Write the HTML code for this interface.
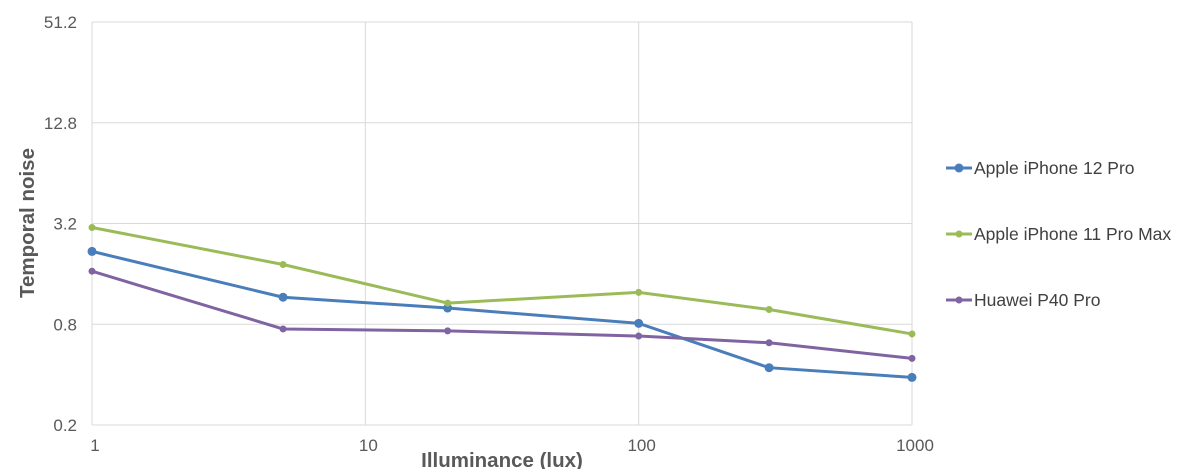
<!DOCTYPE html>
<html><head><meta charset="utf-8"><style>
body{margin:0;background:#fff;font-family:"Liberation Sans",Arial,sans-serif}
svg text{font-family:"Liberation Sans",Arial,sans-serif}
</style></head><body>
<svg id="chart" width="1200" height="469">
<g id="grid"></g><g id="axes"></g><g id="series"></g><g id="legend"></g>
</svg>
<script>
const xValues=[1,5,20,100,300,1000];
const seriesNames=["Apple iPhone 12 Pro","Apple iPhone 11 Pro Max","Huawei P40 Pro"];
const iphone12=[2.18,1.16,1.0,0.81,0.44,0.385];
const iphone11=[3.03,1.82,1.07,1.24,0.98,0.70];
const p40=[1.66,0.75,0.73,0.68,0.62,0.50];
const yTicks=[0.2,0.8,3.2,12.8,51.2];
const xTicks=[1,10,100,1000];
const colors=["#4a7ebb","#9bbb59","#8064a2"];
const ns="http://www.w3.org/2000/svg";
const X0=92,X1=912,Y0=425,Y1=22;
const xs=v=>X0+(Math.log10(v)/3)*(X1-X0);
const ys=v=>Y0-(Math.log(v/0.2)/Math.log(256))*(Y0-Y1);
function mk(t,a,p){const e=document.createElementNS(ns,t);for(const k in a)e.setAttribute(k,a[k]);p.appendChild(e);return e;}
const grid=document.getElementById('grid'),axes=document.getElementById('axes'),ser=document.getElementById('series'),leg=document.getElementById('legend');
yTicks.forEach(t=>{const y=ys(t);
const l=mk('line',{x1:X0,x2:X1,y1:y,y2:y,stroke:'#d9d9d9'},grid);

const tx=mk('text',{x:X0-15,y:y+6,'text-anchor':'end','font-size':17,fill:'#595959'},axes);tx.textContent=t;
});
xTicks.forEach(t=>{const x=xs(t);
const l=mk('line',{x1:x,x2:x,y1:Y1,y2:Y0,stroke:'#d9d9d9'},grid);

const tx=mk('text',{x:x+3,y:Y0+26,'text-anchor':'middle','font-size':17,fill:'#595959'},axes);tx.textContent=t;
});
const xt=mk('text',{x:502,y:467,'text-anchor':'middle','font-size':20.5,'font-weight':'bold',fill:'#595959'},axes);xt.textContent='Illuminance (lux)';

const yt=mk('text',{x:34,y:223,'text-anchor':'middle','font-size':20.5,'font-weight':'bold',fill:'#595959',transform:'rotate(-90 34 223)'},axes);yt.textContent='Temporal noise';

[iphone12,iphone11,p40].forEach((d,i)=>{const w=3,r=i==0?4.5:3.5;
const pl=mk('polyline',{points:d.map((v,j)=>xs(xValues[j])+','+ys(v)).join(' '),fill:'none',stroke:colors[i],'stroke-width':w},ser);

d.forEach((v,j)=>{const c=mk('circle',{cx:xs(xValues[j]),cy:ys(v),r:r,fill:colors[i]},ser);
});
const ly=168+i*66;
const ll=mk('line',{x1:946,x2:972,y1:ly,y2:ly,stroke:colors[i],'stroke-width':3},leg);

const lc=mk('circle',{cx:959,cy:ly,r:r,fill:colors[i]},leg);

const lt=mk('text',{x:974,y:ly+6,'font-size':17.5,fill:'#404040'},leg);lt.textContent=seriesNames[i];
});
</script>
</body></html>
